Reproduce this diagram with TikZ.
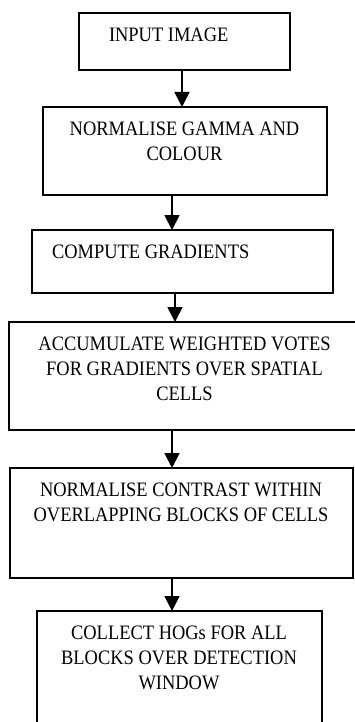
\documentclass[tikz,border=0pt]{standalone}
\usepackage{fontspec}
\setmainfont{Liberation Serif}[FakeStretch=0.9]
\usetikzlibrary{arrows.meta}

\tikzset{
  stepbox/.style={draw=black, line width=1.8pt, rectangle, inner sep=0pt, outer sep=0pt},
  label text/.style={inner sep=0pt, outer sep=0pt, align=center,
    font=\fontsize{20.5}{25}\selectfont},
  flow/.style={line width=1.8pt, -{Triangle[length=15pt,width=15pt]}}
}

\begin{document}
\begin{tikzpicture}[x=1pt, y=-1pt]
  \useasboundingbox (0,0) rectangle (355,722);
  \clip (0,0) rectangle (355,722);
  \fill[white] (0,0) rectangle (355,722);

  % process boxes
  \node[stepbox, minimum width=211pt, minimum height=57pt]  (b1) at (184.5, 41.5) {};
  \node[stepbox, minimum width=284pt, minimum height=88pt]  (b2) at (185, 151) {};
  \node[stepbox, minimum width=301pt, minimum height=63pt]  (b3) at (182.5, 261.5) {};
  \node[stepbox, minimum width=361pt, minimum height=108pt] (b4) at (189.5, 376) {};
  \node[stepbox, minimum width=343pt, minimum height=110pt] (b5) at (181.5, 523) {};
  \node[stepbox, minimum width=285pt, minimum height=134pt] (b6) at (179.5, 678) {};

  % box texts
  \node[label text, anchor=west] (t1) at (109, 35) {INPUT IMAGE};
  \node[label text] (t2) at (184.5, 141) {NORMALISE GAMMA AND\\COLOUR};
  \node[label text, anchor=west] (t3) at (52, 252) {COMPUTE GRADIENTS};
  \node[label text] (t4) at (184.5, 369) {ACCUMULATE WEIGHTED VOTES\\FOR GRADIENTS OVER SPATIAL\\CELLS};
  \node[label text] (t5) at (181, 502) {NORMALISE CONTRAST WITHIN\\OVERLAPPING BLOCKS OF CELLS};
  \node[label text] (t6) at (179, 657.5) {COLLECT HOGs FOR ALL\\BLOCKS OVER DETECTION\\WINDOW};

  % connectors
  \draw[flow] (182,0 |- b1.south) -- (182,0 |- b2.north);
  \draw[flow] (172,0 |- b2.south) -- (172,0 |- b3.north);
  \draw[flow] (175,0 |- b3.south) -- (175,0 |- b4.north);
  \draw[flow] (172,0 |- b4.south) -- (172,0 |- b5.north);
  \draw[flow] (172,0 |- b5.south) -- (172,0 |- b6.north);
\end{tikzpicture}
\end{document}
